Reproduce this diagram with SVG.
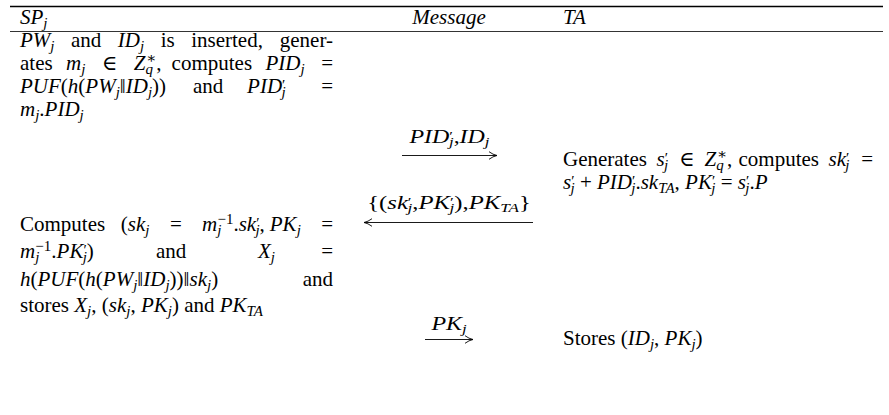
<svg xmlns="http://www.w3.org/2000/svg" width="889" height="415" viewBox="0 0 889 415">
<defs>
<style>
text { font-family: "Liberation Serif", "DejaVu Serif", serif; font-size: 21px; fill: #000; }
.i { font-style: italic; }
.sb { font-size: 15px; baseline-shift: -4px; font-style: italic; }
.sp { font-size: 15px; baseline-shift: 7px; font-style: normal; }
.pr { font-size: 15px; baseline-shift: 3px; font-style: normal; }
.lab { font-size: 18px; font-style: italic; }
.lsb { font-size: 12.5px; baseline-shift: -3px; font-style: italic; }
.lpr { font-size: 12.5px; baseline-shift: 3px; font-style: normal; }
.up { font-style: normal; }
.rule { stroke: #000; }
.arr { stroke: #000; stroke-width: 0.9; fill: none; }
</style>
<marker id="head" viewBox="0 0 10 10" refX="9" refY="5" markerWidth="10" markerHeight="10" markerUnits="userSpaceOnUse" orient="auto-start-reverse">
<path d="M1,1.2 Q5,4.2 9,5 Q5,5.8 1,8.8" fill="none" stroke="#000" stroke-width="0.9"/>
</marker>
</defs>
<rect width="889" height="415" fill="#fff"/>

<g id="header">
<line class="rule" x1="10" y1="6.5" x2="883" y2="6.5" stroke-width="1.3"/>
<text x="20" y="23.5"><tspan class="i">SP</tspan><tspan class="sb">j</tspan></text>
<text x="449" y="23.5" class="i" text-anchor="middle">Message</text>
<text x="563" y="23.5" class="i">TA</text>
<line class="rule" x1="10" y1="31.5" x2="883" y2="31.5" stroke-width="0.8"/>
</g>

<g id="sp-1">
<text y="47"><tspan x="20"><tspan class="i">PW</tspan><tspan class="sb">j</tspan></tspan><tspan x="71">and</tspan><tspan x="117.8"><tspan class="i">ID</tspan><tspan class="sb">j</tspan></tspan><tspan x="160.7">is</tspan><tspan x="191.2">inserted,</tspan></text>
<text x="333" y="47" text-anchor="end">gener-</text>
<text y="70"><tspan x="20">ates</tspan><tspan x="66"><tspan class="i">m</tspan><tspan class="sb">j</tspan></tspan><tspan x="102.1">∈</tspan><tspan x="133.8"><tspan class="i">Z</tspan><tspan class="sb">q</tspan><tspan class="sp" dx="-7">∗</tspan>,</tspan><tspan x="171.6">computes</tspan><tspan x="265.4"><tspan class="i">PID</tspan><tspan class="sb">j</tspan></tspan></text>
<text x="333" y="70" text-anchor="end">=</text>
<text y="93"><tspan x="20"><tspan class="i">PUF</tspan>(<tspan class="i">h</tspan>(<tspan class="i">PW</tspan><tspan class="sb">j</tspan>‖<tspan class="i">ID</tspan><tspan class="sb">j</tspan>))</tspan><tspan x="193">and</tspan><tspan x="247.1"><tspan class="i">PID</tspan><tspan class="pr">′</tspan><tspan class="sb" dx="-4">j</tspan></tspan></text>
<text x="333" y="93" text-anchor="end">=</text>
<text x="20" y="116"><tspan class="i">m</tspan><tspan class="sb">j</tspan>.<tspan class="i">PID</tspan><tspan class="sb">j</tspan></text>
</g>

<g id="ta-1">
<text y="166"><tspan x="563">Generates</tspan><tspan x="656.5"><tspan class="i">s</tspan><tspan class="pr">′</tspan><tspan class="sb" dx="-4">j</tspan></tspan><tspan x="679.2">∈</tspan><tspan x="704.5"><tspan class="i">Z</tspan><tspan class="sb">q</tspan><tspan class="sp" dx="-7">∗</tspan>,</tspan><tspan x="738.5">computes</tspan><tspan x="828.5"><tspan class="i">sk</tspan><tspan class="pr">′</tspan><tspan class="sb" dx="-4">j</tspan></tspan></text>
<text x="873" y="166" text-anchor="end">=</text>
<text x="563" y="189"><tspan class="i">s</tspan><tspan class="pr">′</tspan><tspan class="sb" dx="-4">j</tspan> + <tspan class="i">PID</tspan><tspan class="pr">′</tspan><tspan class="sb" dx="-4">j</tspan>.<tspan class="i">sk</tspan><tspan class="sb">TA</tspan>, <tspan class="i">PK</tspan><tspan class="pr">′</tspan><tspan class="sb" dx="-4">j</tspan> = <tspan class="i">s</tspan><tspan class="pr">′</tspan><tspan class="sb" dx="-4">j</tspan>.<tspan class="i">P</tspan></text>
</g>

<g id="sp-2">
<text y="231"><tspan x="20">Computes</tspan><tspan x="120.8">(<tspan class="i">sk</tspan><tspan class="sb">j</tspan></tspan><tspan x="169.9">=</tspan><tspan x="202.1"><tspan class="i">m</tspan><tspan class="sb">j</tspan><tspan class="sp" dx="-4">−1</tspan>.<tspan class="i">sk</tspan><tspan class="pr">′</tspan><tspan class="sb" dx="-4">j</tspan>,</tspan><tspan x="269.8"><tspan class="i">PK</tspan><tspan class="sb">j</tspan></tspan></text>
<text x="333" y="231" text-anchor="end">=</text>
<text y="258"><tspan x="20"><tspan class="i">m</tspan><tspan class="sb">j</tspan><tspan class="sp" dx="-4">−1</tspan>.<tspan class="i">PK</tspan><tspan class="pr">′</tspan><tspan class="sb" dx="-4">j</tspan>)</tspan><tspan x="156">and</tspan><tspan x="258"><tspan class="i">X</tspan><tspan class="sb">j</tspan></tspan></text>
<text x="333" y="258" text-anchor="end">=</text>
<text x="20" y="286"><tspan class="i">h</tspan>(<tspan class="i">PUF</tspan>(<tspan class="i">h</tspan>(<tspan class="i">PW</tspan><tspan class="sb">j</tspan>‖<tspan class="i">ID</tspan><tspan class="sb">j</tspan>))‖<tspan class="i">sk</tspan><tspan class="sb">j</tspan>)</text>
<text x="333" y="286" text-anchor="end">and</text>
<text x="20" y="312">stores <tspan class="i">X</tspan><tspan class="sb">j</tspan>, (<tspan class="i">sk</tspan><tspan class="sb">j</tspan>, <tspan class="i">PK</tspan><tspan class="sb">j</tspan>) and <tspan class="i">PK</tspan><tspan class="sb">TA</tspan></text>
</g>

<g id="ta-2">
<text x="563" y="345">Stores (<tspan class="i">ID</tspan><tspan class="sb">j</tspan>, <tspan class="i">PK</tspan><tspan class="sb">j</tspan>)</text>
</g>

<g id="connectors">
<line class="arr" x1="402" y1="155.5" x2="497" y2="155.5" marker-end="url(#head)"/>
<text transform="translate(449.5,143) scale(1.33,1)" x="0" y="0" text-anchor="middle" class="lab">PID<tspan class="lpr">′</tspan><tspan class="lsb" dx="-3">j</tspan><tspan class="up">,</tspan>ID<tspan class="lsb">j</tspan></text>
<line class="arr" x1="364" y1="222.5" x2="533" y2="222.5" marker-start="url(#head)"/>
<text transform="translate(449,209) scale(1.37,1)" x="0" y="0" text-anchor="middle" class="lab"><tspan class="up">{(</tspan>sk<tspan class="lpr">′</tspan><tspan class="lsb" dx="-3">j</tspan><tspan class="up">,</tspan>PK<tspan class="lpr">′</tspan><tspan class="lsb" dx="-3">j</tspan><tspan class="up">),</tspan>PK<tspan class="lsb">TA</tspan><tspan class="up">}</tspan></text>
<line class="arr" x1="425" y1="339.5" x2="473" y2="339.5" marker-end="url(#head)"/>
<text transform="translate(449,330) scale(1.33,1)" x="0" y="0" text-anchor="middle" class="lab">PK<tspan class="lsb">j</tspan></text>
</g>
</svg>
